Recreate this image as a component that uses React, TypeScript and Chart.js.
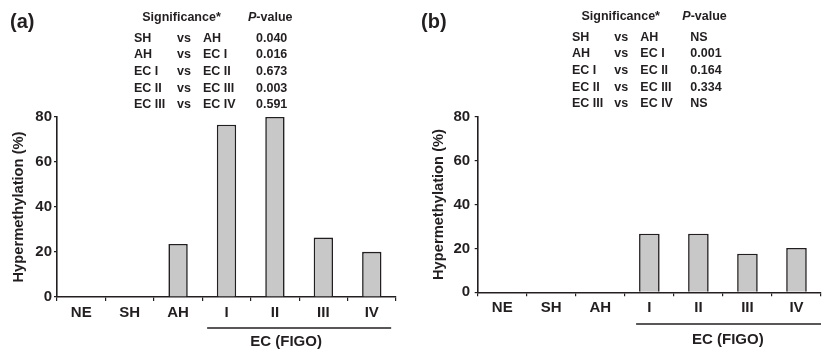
import React, { useEffect, useRef } from "react";
import { Chart, registerables } from "chart.js";

Chart.register(...registerables);

const categories = ["NE", "SH", "AH", "I", "II", "III", "IV"];
const valuesA = [0, 0, 23.6, 76.6, 80, 26.4, 20.1];
const valuesB = [0, 0, 0, 26.7, 26.7, 17.6, 20.2];
const yTickValues = [0, 20, 40, 60, 80];
const compLeft = ["SH", "AH", "EC I", "EC II", "EC III"];
const compRight = ["AH", "EC I", "EC II", "EC III", "EC IV"];
const pValuesA = ["0.040", "0.016", "0.673", "0.003", "0.591"];
const pValuesB = ["NS", "0.001", "0.164", "0.334", "NS"];
const groupLabel = "EC (FIGO)";
const yTitle = "Hypermethylation (%)";

const FONT = "'Liberation Sans', Arial, Helvetica, sans-serif";
const INK = "#231f20";

type PanelCfg = {
  letter: string;
  values: number[];
  pvals: string[];
  padTop: number;
  padRight: number;
  yWidth: number;
  xHeight: number;
  titlePad: number;
  barPct: number;
  tickPadY: number;
  cols: number[];
  sigCenter: number;
  rowY: number[];
  headerY: number;
  bracket: [number, number];
  bracketY: number;
  labelIdx: number;
  labelY: number;
};

const panelA: PanelCfg = {
  letter: "(a)",
  values: valuesA,
  pvals: pValuesA,
  padTop: 117,
  padRight: 15,
  yWidth: 57,
  xHeight: 53,
  titlePad: 10.2,
  barPct: 0.4,
  tickPadY: 2,
  cols: [134, 177, 203, 256],
  sigCenter: 181.5,
  rowY: [38.5, 54.7, 71.7, 88.7, 105],
  headerY: 17.5,
  bracket: [2.6, 6.4],
  bracketY: 328,
  labelIdx: 4.23,
  labelY: 342,
};

const panelB: PanelCfg = {
  letter: "(b)",
  values: valuesB,
  pvals: pValuesB,
  padTop: 116.7,
  padRight: 1,
  yWidth: 66.7,
  xHeight: 57.7,
  titlePad: 19.5,
  barPct: 0.42,
  tickPadY: 4.5,
  cols: [161, 203.3, 229.3, 279.3],
  sigCenter: 209.7,
  rowY: [37.2, 53.8, 70.5, 88, 104],
  headerY: 16.5,
  bracket: [2.73, 6.5],
  bracketY: 324,
  labelIdx: 4.6,
  labelY: 340,
};

function makeAnnotations(cfg: PanelCfg) {
  return {
    id: "annot" + cfg.letter,
    afterDraw(chart: any) {
      const ctx = chart.ctx as CanvasRenderingContext2D;
      ctx.save();
      ctx.fillStyle = INK;
      ctx.strokeStyle = INK;
      ctx.textBaseline = "middle";
      ctx.font = `bold 20px ${FONT}`;
      ctx.textAlign = "left";
      ctx.fillText(cfg.letter, 10, 22);
      ctx.font = `bold 12.5px ${FONT}`;
      ctx.textAlign = "center";
      ctx.fillText("Significance*", cfg.sigCenter, cfg.headerY);
      ctx.textAlign = "left";
      ctx.font = `italic bold 12.5px ${FONT}`;
      ctx.fillText("P", cfg.cols[3] - 8, cfg.headerY);
      const pw = ctx.measureText("P").width;
      ctx.font = `bold 12.5px ${FONT}`;
      ctx.fillText("-value", cfg.cols[3] - 8 + pw, cfg.headerY);
      for (let i = 0; i < compLeft.length; i++) {
        const y = cfg.rowY[i];
        ctx.fillText(compLeft[i], cfg.cols[0], y);
        ctx.fillText("vs", cfg.cols[1], y);
        ctx.fillText(compRight[i], cfg.cols[2], y);
        ctx.fillText(cfg.pvals[i], cfg.cols[3], y);
      }
      const xs = chart.scales.x;
      const x0 = xs.getPixelForValue(cfg.bracket[0]);
      const x1 = xs.getPixelForValue(cfg.bracket[1]);
      ctx.lineWidth = 1.3;
      ctx.beginPath();
      ctx.moveTo(x0, cfg.bracketY);
      ctx.lineTo(x1, cfg.bracketY);
      ctx.stroke();
      ctx.font = `bold 15px ${FONT}`;
      ctx.textAlign = "center";
      ctx.fillText(groupLabel, xs.getPixelForValue(cfg.labelIdx), cfg.labelY);
      ctx.restore();
    },
  };
}

function Panel({ cfg, left }: { cfg: PanelCfg; left: number }) {
  const ref = useRef<HTMLCanvasElement | null>(null);
  useEffect(() => {
    if (!ref.current) return;
    const chart = new Chart(ref.current, {
      type: "bar",
      data: {
        labels: categories,
        datasets: [
          {
            data: cfg.values,
            backgroundColor: "#c8c8c8",
            borderColor: INK,
            borderWidth: 1.6,
            borderSkipped: "bottom",
            barPercentage: cfg.barPct,
            categoryPercentage: 1,
          },
        ],
      },
      options: {
        responsive: false,
        animation: false,
        devicePixelRatio: 1,
        layout: { padding: { top: cfg.padTop, right: cfg.padRight, left: 0, bottom: 0 } },
        plugins: { legend: { display: false }, tooltip: { enabled: false } },
        scales: {
          x: {
            type: "category",
            offset: true,
            grid: {
              offset: true,
              drawOnChartArea: false,
              drawTicks: true,
              tickLength: 4,
              color: INK,
              lineWidth: 1.2,
            },
            border: { color: INK, width: 1.6 },
            ticks: {
              color: INK,
              font: { family: FONT, size: 15, weight: "bold" },
              padding: 3,
              maxRotation: 0,
              autoSkip: false,
            },
            afterFit: (s: any) => {
              s.height = cfg.xHeight;
            },
          },
          y: {
            min: 0,
            max: 80,
            afterBuildTicks: (s: any) => {
              s.ticks = yTickValues.map((v) => ({ value: v }));
            },
            grid: {
              drawOnChartArea: false,
              drawTicks: true,
              tickLength: 3,
              color: INK,
              lineWidth: 1.2,
            },
            border: { color: INK, width: 1.6 },
            ticks: {
              color: INK,
              font: { family: FONT, size: 15, weight: "bold" },
              padding: cfg.tickPadY,
            },
            title: {
              display: true,
              text: yTitle,
              color: INK,
              font: { family: FONT, size: 14.7, weight: "bold" },
              padding: { top: cfg.titlePad, bottom: 0 },
            },
            afterFit: (s: any) => {
              s.width = cfg.yWidth;
            },
          },
        },
      },
      plugins: [makeAnnotations(cfg)],
    } as any);
    return () => chart.destroy();
  }, [cfg]);
  return (
    <canvas
      ref={ref}
      width={411}
      height={350}
      style={{ position: "absolute", left, top: 0, width: 411, height: 350 }}
    />
  );
}

export default function App() {
  return (
    <div
      style={{
        position: "absolute",
        left: 0,
        top: 0,
        width: 822,
        height: 350,
        background: "#fff",
      }}
    >
      <Panel cfg={panelA} left={0} />
      <Panel cfg={panelB} left={411} />
    </div>
  );
}
